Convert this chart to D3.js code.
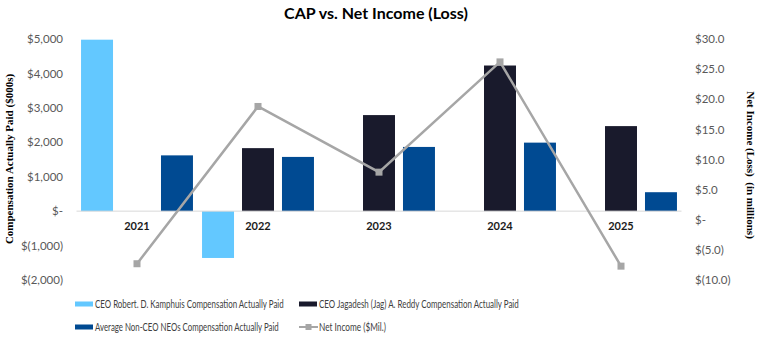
<!DOCTYPE html>
<html>
<head>
<meta charset="utf-8">
<script src="https://cdn.jsdelivr.net/npm/d3@7"></script>
<style>
  body { margin: 0; background: #fff; }
  text { font-family: Lato, "Open Sans", sans-serif; }
</style>
</head>
<body>
<div id="chart"></div>
<script>
// Data
const years = ["2021", "2022", "2023", "2024", "2025"];
const kamphuisCap = [4980, -1360, null, null, null];
const reddyCap = [null, 1830, 2790, 4230, 2470];
const neoCap = [1620, 1575, 1865, 1990, 550];
const netIncome = [-7.3, 18.8, 7.9, 26.2, -7.7];
const leftTicks = [-2000, -1000, 0, 1000, 2000, 3000, 4000, 5000];
const rightTicks = [-10, -5, 0, 5, 10, 15, 20, 25, 30];
const seriesNames = [
  "CEO Robert. D. Kamphuis Compensation Actually Paid",
  "CEO Jagadesh (Jag) A. Reddy Compensation Actually Paid",
  "Average Non-CEO NEOs Compensation Actually Paid",
  "Net Income ($Mil.)"
];

const width = 764, height = 345;
const colors = ["#63C8FF", "#191A2C", "#004A92"];
const lineColor = "#A6A6A6";

const svg = d3.select("#chart")
  .append("svg")
    .attr("width", width)
    .attr("height", height);

// Scales
const x0 = d3.scaleBand()
  .domain(years)
  .range([76.5, 681.5])
  .paddingInner(0.075)
  .paddingOuter(0.0375);

const x1 = d3.scaleBand()
  .domain([0, 1, 2])
  .range([0, x0.bandwidth()])
  .paddingInner(0.2)
  .paddingOuter(0);

const yL = d3.scaleLinear().domain([-2000, 5000]).range([280, 39]);
const yR = d3.scaleLinear().domain([-10, 30]).range([280, 39]);

// Formatters like Excel accounting style
const fmtL = v => v === 0 ? "$-" : v < 0 ? `$(${d3.format(",")(-v)})` : `$${d3.format(",")(v)}`;
const fmtR = v => v === 0 ? "$-" : v < 0 ? `$(${(-v).toFixed(1)})` : `$${v.toFixed(1)}`;

// Title
svg.append("text")
  .attr("x", 376)
  .attr("y", 19)
  .attr("text-anchor", "middle")
  .style("font-size", "16px")
  .style("font-weight", "bold")
  .style("fill", "#000")
  .text("CAP vs. Net Income (Loss)");

// Left axis
const leftAxis = svg.append("g")
  .attr("transform", "translate(66,0)")
  .call(d3.axisLeft(yL).tickValues(leftTicks).tickFormat(fmtL).tickSize(0).tickPadding(3));
leftAxis.select(".domain").remove();
leftAxis.selectAll("text")
  .style("font-size", "11.5px")
  .style("fill", "#595959")
  .style("font-family", "Lato, sans-serif");

// Right axis
const rightAxis = svg.append("g")
  .attr("transform", "translate(692,0)")
  .call(d3.axisRight(yR).tickValues(rightTicks).tickFormat(fmtR).tickSize(0).tickPadding(3));
rightAxis.select(".domain").remove();
rightAxis.selectAll("text")
  .style("font-size", "11.5px")
  .style("fill", "#595959")
  .style("font-family", "Lato, sans-serif");

// Axis titles
svg.append("text")
  .attr("transform", `translate(13,159) rotate(-90)`)
  .attr("text-anchor", "middle")
  .style("font-family", "'Liberation Serif', serif")
  .style("font-weight", "bold")
  .style("font-size", "11px")
  .text("Compensation Actually Paid ($000s)");

svg.append("text")
  .attr("transform", `translate(747,165) rotate(90)`)
  .attr("text-anchor", "middle")
  .style("font-family", "'Liberation Serif', serif")
  .style("font-weight", "bold")
  .style("font-size", "11px")
  .style("white-space", "pre")
  .text("Net Income (Loss)  (in millions)");

// Bars
const seriesVals = [kamphuisCap, reddyCap, neoCap];
seriesVals.forEach((vals, s) => {
  svg.append("g")
    .selectAll("rect")
    .data(years.map((y, i) => ({year: y, value: vals[i]})).filter(d => d.value !== null))
    .enter()
    .append("rect")
      .attr("x", d => x0(d.year) + x1(s))
      .attr("y", d => yL(Math.max(0, d.value)))
      .attr("width", x1.bandwidth())
      .attr("height", d => Math.abs(yL(d.value) - yL(0)))
      .attr("fill", colors[s]);
});

// Category axis line
svg.append("line")
  .attr("x1", x0.range()[0])
  .attr("x2", x0.range()[1])
  .attr("y1", yL(0))
  .attr("y2", yL(0))
  .attr("stroke", "#D9D9D9")
  .attr("stroke-width", 1);

// Year labels
svg.append("g")
  .selectAll("text")
  .data(years)
  .enter()
  .append("text")
    .attr("x", d => x0(d) + x0.bandwidth() / 2)
    .attr("y", 226)
    .attr("dy", "0.35em")
    .attr("text-anchor", "middle")
    .style("font-size", "11px")
    .style("font-weight", "bold")
    .style("fill", "#1a1a1a")
    .text(d => d);

// Net income line
const lineData = years.map((y, i) => ({year: y, value: netIncome[i]}));
const line = d3.line()
  .x(d => x0(d.year) + x0.bandwidth() / 2)
  .y(d => yR(d.value));

svg.append("path")
  .datum(lineData)
  .attr("fill", "none")
  .attr("stroke", lineColor)
  .attr("stroke-width", 2.5)
  .attr("d", line);

svg.selectAll(".marker")
  .data(lineData)
  .enter()
  .append("rect")
    .attr("class", "marker")
    .attr("x", d => x0(d.year) + x0.bandwidth() / 2 - 3.5)
    .attr("y", d => yR(d.value) - 3.5)
    .attr("width", 7)
    .attr("height", 7)
    .attr("fill", lineColor);

// Legend (text squeezed horizontally to the narrow width of the original font)
const legendPos = [[75, 304], [299, 304], [75, 327], [299, 327]];
const legendTextWidth = [189, 200, 184, 67];
seriesNames.forEach((name, i) => {
  const g = svg.append("g")
    .attr("transform", `translate(${legendPos[i][0]},${legendPos[i][1]})`);
  if (i < 3) {
    g.append("rect")
      .attr("x", 0)
      .attr("y", -2.5)
      .attr("width", 18)
      .attr("height", 5)
      .attr("fill", colors[i]);
  } else {
    g.append("line")
      .attr("x1", 0).attr("x2", 19)
      .attr("y1", 0).attr("y2", 0)
      .attr("stroke", lineColor)
      .attr("stroke-width", 2);
    g.append("rect")
      .attr("x", 6.5).attr("y", -3)
      .attr("width", 6).attr("height", 6)
      .attr("fill", lineColor);
  }
  const label = g.append("text")
    .attr("x", 0)
    .attr("y", 0)
    .attr("dy", "0.35em")
    .style("font-size", "11px")
    .style("fill", "#404040")
    .text(name);
  const sx = legendTextWidth[i] / label.node().getComputedTextLength();
  label.attr("transform", `translate(20,0) scale(${sx},1)`);
});
</script>
</body>
</html>
